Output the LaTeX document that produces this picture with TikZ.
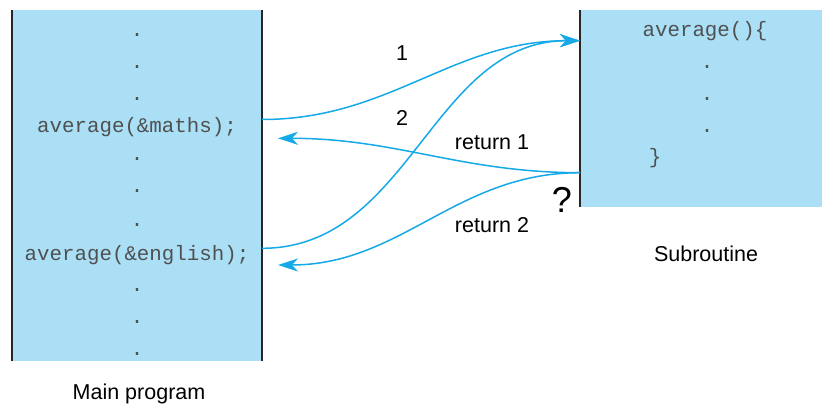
\documentclass[tikz,border=0pt]{standalone}
\usepackage{fontspec}
\setmainfont{Liberation Sans}
\setmonofont{Liberation Mono}
\usetikzlibrary{arrows.meta}
\definecolor{boxblue}{HTML}{AADFF6}
\definecolor{linkblue}{HTML}{15A9E8}
\definecolor{codegray}{HTML}{505050}

\begin{document}
\begin{tikzpicture}[x=1pt, y=-1pt,
    codeline/.style={font=\fontsize{20.8}{24}\ttfamily, text=codegray, inner sep=0pt, anchor=base},
    lbl/.style={font=\fontsize{21.5}{25}\selectfont, inner sep=0pt},
    panel/.style={fill=boxblue, inner sep=0pt, anchor=north west},
    edge/.style={line width=2pt, black!85},
    flow/.style={-{Stealth[length=20pt,width=13pt,inset=6pt]}, linkblue, line width=1.5pt}
]
\useasboundingbox (0,0) rectangle (822,406);

% The two boxes
\node[panel, minimum width=250pt, minimum height=351pt] (main) at (12,10) {};
\node[panel, minimum width=242pt, minimum height=197pt] (sub) at (580,10) {};
\draw[edge] (main.north west) -- (main.south west);
\draw[edge] (main.north east) -- (main.south east);
\draw[edge] (sub.north west) -- (sub.south west);

% Main program code
\foreach \y [count=\i] in {36.5,68.5,100.5,161,193,227,291.5,323.5,355.5}
    \node[codeline] (m\i) at (137,\y) {.};
\node[codeline] (maths) at (137,133) {average(\&maths);};
\node[codeline] (english) at (137,261) {average(\&english);};

% Subroutine code
\node[codeline] (head) at (705,37) {average()\{};
\foreach \y [count=\i] in {68.5,100.5,132.5}
    \node[codeline] (s\i) at (707,\y) {.};
\node[codeline] (tail) at (655,164) {\}};

% Ends of the arrows
\coordinate (entry) at (580,40.7);
\coordinate (exit) at (580,172.7);
\coordinate (call1) at (262,119.5);
\coordinate (call2) at (262,248.3);
\coordinate (back1) at (278,138.3);
\coordinate (back2) at (278,265);

\draw[flow] (call1) to[out=0,in=180] (entry);
\draw[flow] (call2) to[out=0,in=180] (entry);
\draw[flow] (exit) to[out=180,in=0] (back1);
\draw[flow] (exit) to[out=180,in=0] (back2);

% Labels
\node[lbl] (one) at (402,53) {1};
\node[lbl] (two) at (402,118) {2};
\node[lbl] (ret1) at (492,142) {return 1};
\node[lbl] (ret2) at (492,225) {return 2};
\node[font=\fontsize{36}{40}\selectfont, inner sep=0pt] (ask) at (562,200) {?};
\node[lbl] (subname) at (706,254) {Subroutine};
\node[lbl] (mainname) at (139,394) {Main program};

\end{tikzpicture}
\end{document}
